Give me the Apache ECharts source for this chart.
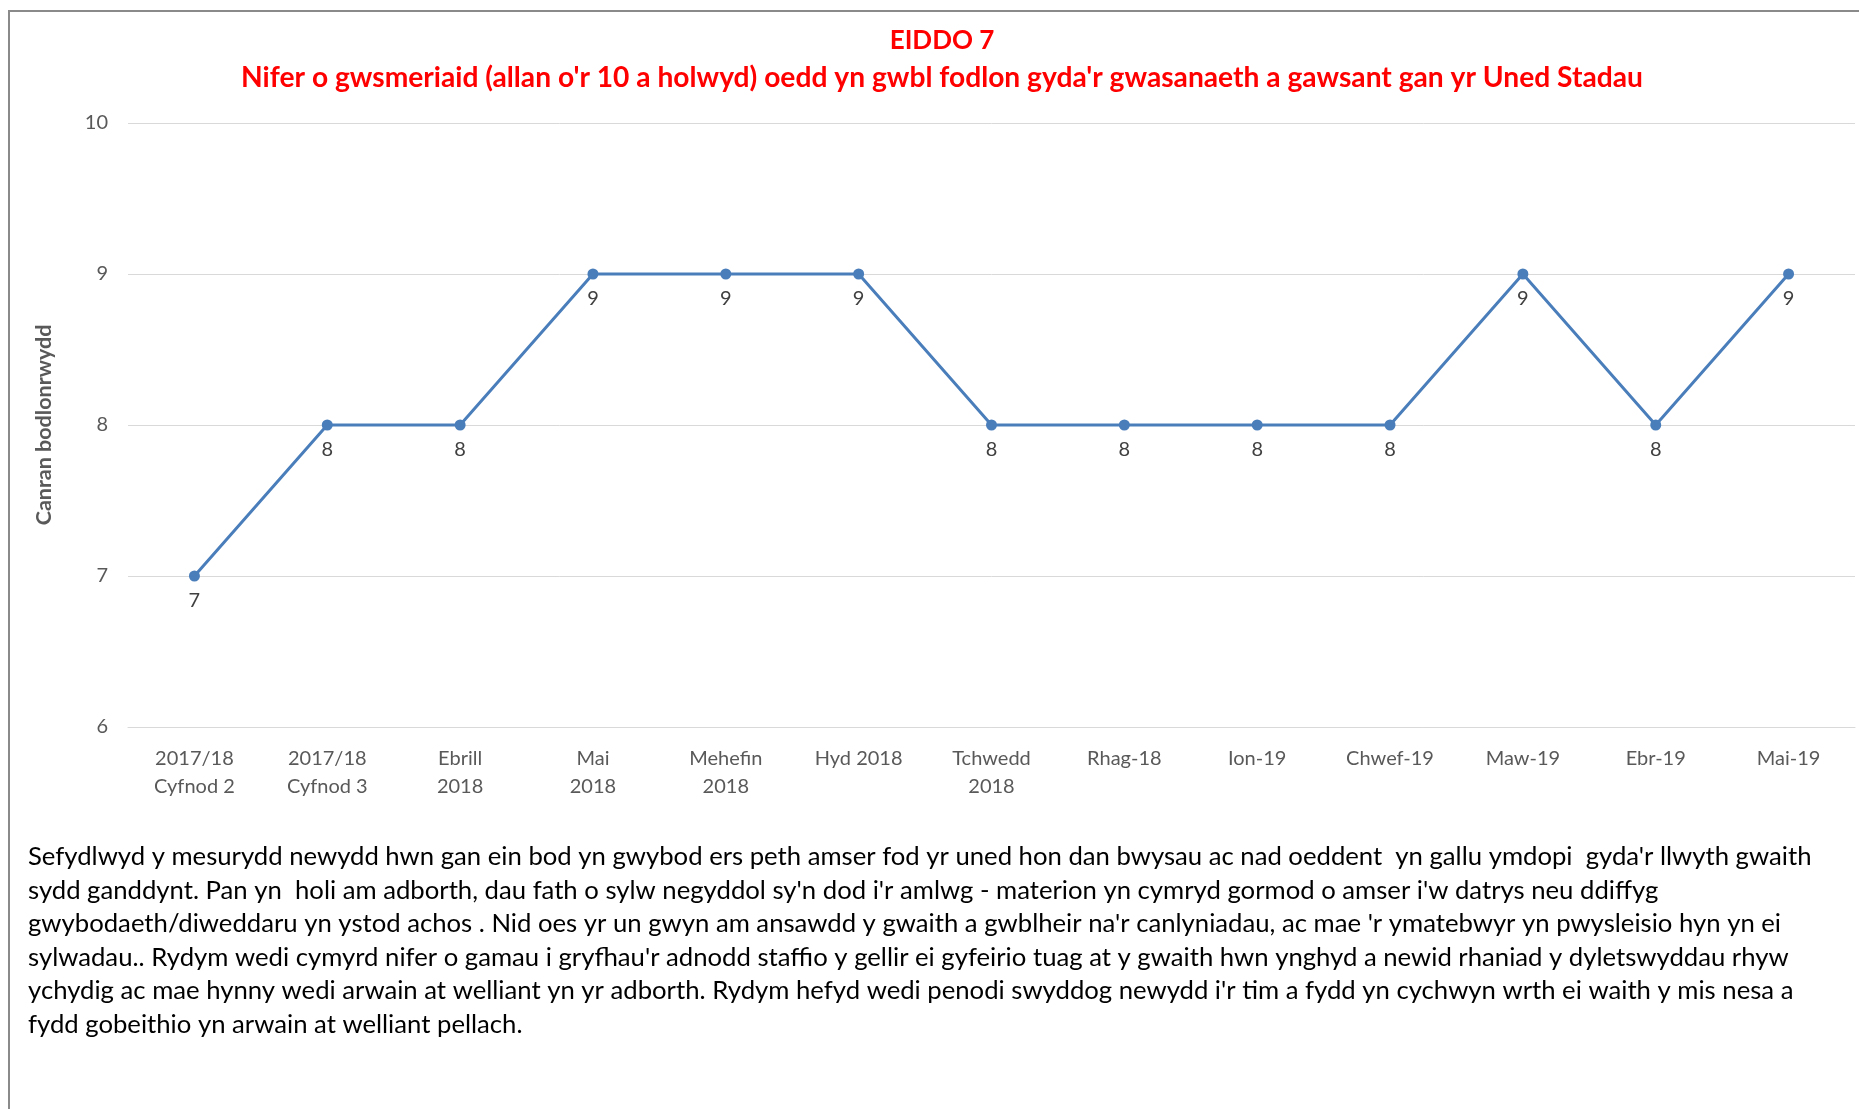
<!DOCTYPE html>
<html>
<head>
<meta charset="utf-8">
<script src="https://cdn.jsdelivr.net/npm/echarts@6/dist/echarts.min.js"></script>
<style>
html,body{margin:0;padding:0;background:#fff;}
#chart{width:1859px;height:1109px;}
</style>
</head>
<body>
<div id="chart"></div>
<script>
const titleLine1 = "EIDDO 7";
const titleLine2 = "Nifer o gwsmeriaid (allan o'r 10 a holwyd) oedd yn gwbl fodlon gyda'r gwasanaeth a gawsant gan yr Uned Stadau";
const yAxisName = "Canran bodlonrwydd";
const categories = [
  "2017/18\nCyfnod 2", "2017/18\nCyfnod 3", "Ebrill\n2018", "Mai\n2018", "Mehefin\n2018",
  "Hyd 2018", "Tchwedd\n2018", "Rhag-18", "Ion-19", "Chwef-19", "Maw-19", "Ebr-19", "Mai-19"
];
const values = [7, 8, 8, 9, 9, 9, 8, 8, 8, 8, 9, 8, 9];
const yMin = 6, yMax = 10, yStep = 1;
const noteLines = [
  "Sefydlwyd y mesurydd newydd hwn gan ein bod yn gwybod ers peth amser fod yr uned hon dan bwysau ac nad oeddent  yn gallu ymdopi  gyda'r llwyth gwaith",
  "sydd ganddynt. Pan yn  holi am adborth, dau fath o sylw negyddol sy'n dod i'r amlwg - materion yn cymryd gormod o amser i'w datrys neu ddiffyg",
  "gwybodaeth/diweddaru yn ystod achos . Nid oes yr un gwyn am ansawdd y gwaith a gwblheir na'r canlyniadau, ac mae 'r ymatebwyr yn pwysleisio hyn yn ei",
  "sylwadau.. Rydym wedi cymyrd nifer o gamau i gryfhau'r adnodd staffio y gellir ei gyfeirio tuag at y gwaith hwn ynghyd a newid rhaniad y dyletswyddau rhyw",
  "ychydig ac mae hynny wedi arwain at welliant yn yr adborth. Rydym hefyd wedi penodi swyddog newydd i'r tim a fydd yn cychwyn wrth ei waith y mis nesa a",
  "fydd gobeithio yn arwain at welliant pellach."
];

const FONT = 'Lato, "Open Sans", sans-serif';
const chart = echarts.init(document.getElementById('chart'), null, {renderer: 'canvas'});
chart.setOption({
  backgroundColor: '#ffffff',
  textStyle: {fontFamily: FONT},
  title: {
    text: '{a|' + titleLine1 + '}\n{b|' + titleLine2 + '}',
    left: 942,
    top: 22,
    padding: 0,
    textAlign: 'center',
    textStyle: {
      color: '#ff0000', fontFamily: FONT,
      rich: {
        a: {color: '#ff0000', fontSize: 26, fontWeight: 'bold', fontFamily: FONT, lineHeight: 37},
        b: {color: '#ff0000', fontSize: 28.2, fontWeight: 'bold', fontFamily: FONT, lineHeight: 37}
      }
    }
  },
  grid: {left: 128, right: 4, top: 123, bottom: 382, containLabel: false},
  xAxis: {
    type: 'category',
    data: categories,
    boundaryGap: true,
    axisLine: {show: true, lineStyle: {color: '#d9d9d9', width: 1}},
    axisTick: {show: false},
    axisLabel: {interval: 0, color: '#595959', fontSize: 20, lineHeight: 28, margin: 18, fontFamily: FONT}
  },
  yAxis: {
    type: 'value',
    min: yMin, max: yMax, interval: yStep,
    name: yAxisName,
    nameLocation: 'middle',
    nameGap: 73,
    nameTextStyle: {color: '#595959', fontSize: 21.5, fontWeight: 'bold', fontFamily: FONT},
    axisLine: {show: false},
    axisTick: {show: false},
    axisLabel: {color: '#595959', fontSize: 20, margin: 20, fontFamily: FONT},
    splitLine: {lineStyle: {color: '#d9d9d9', width: 1}}
  },
  series: [{
    type: 'line',
    data: values,
    symbol: 'circle',
    symbolSize: 11,
    itemStyle: {color: '#4a7ebb'},
    lineStyle: {color: '#4a7ebb', width: 3},
    label: {show: true, position: 'bottom', distance: 9, color: '#404040', fontSize: 20, fontFamily: FONT},
    animation: false
  }],
  graphic: [
    {
      type: 'polyline',
      shape: {points: [[9, 1109], [9, 11], [1859, 11]]},
      style: {stroke: '#8a8a8a', lineWidth: 2, fill: null}
    },
    {
      type: 'text',
      left: 28,
      top: 840,
      style: {
        text: noteLines.join("\n"),
        fill: '#000000',
        fontSize: 25.7,
        lineHeight: 33.5,
        fontFamily: FONT
      }
    }
  ],
  animation: false
});
</script>
</body>
</html>
